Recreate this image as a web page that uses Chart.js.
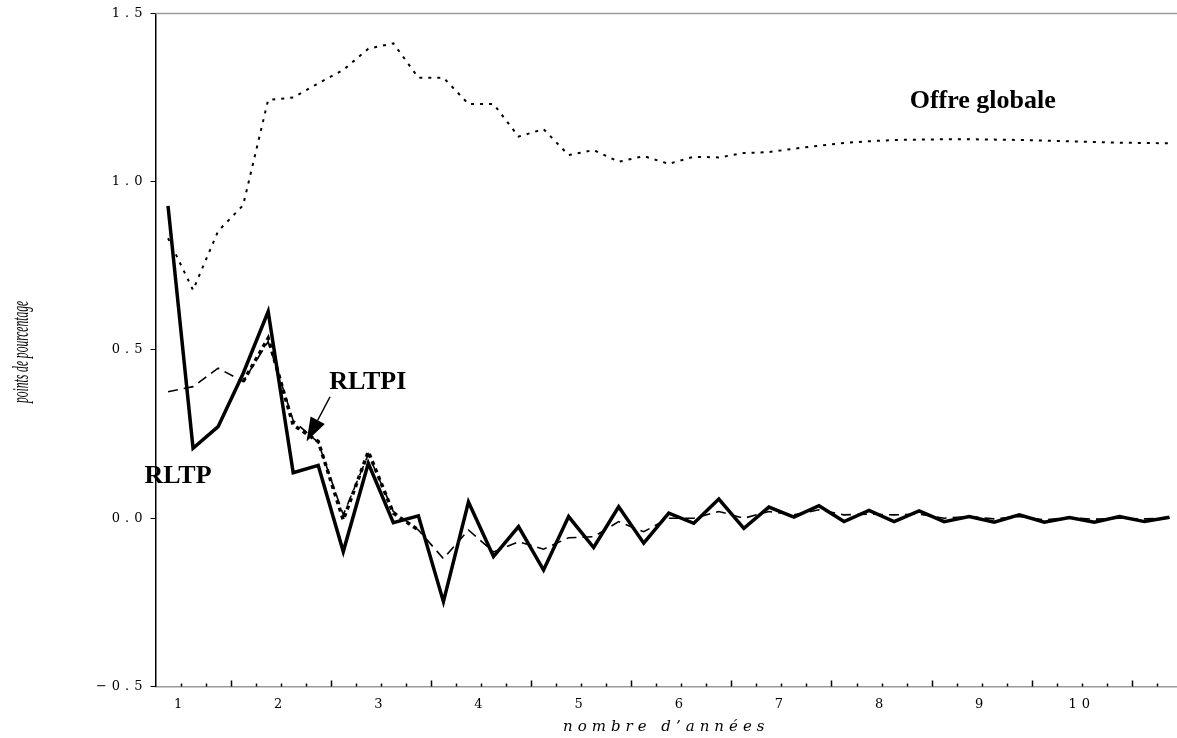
<!DOCTYPE html>
<html>
<head>
<meta charset="utf-8">
<script src="https://cdn.jsdelivr.net/npm/chart.js@4.4.1/dist/chart.umd.min.js"></script>
<style>
  html, body { margin: 0; padding: 0; background: #fff; }
  #wrap { width: 1177px; height: 738px; }
</style>
</head>
<body>
<div id="wrap"><canvas id="myChart" width="1177" height="738"></canvas></div>
<script>
// quarters, in years
var years = [0.875, 1.125, 1.375, 1.625, 1.875, 2.125, 2.375, 2.625, 2.875, 3.125, 3.375, 3.625, 3.875, 4.125,
  4.375, 4.625, 4.875, 5.125, 5.375, 5.625, 5.875, 6.125, 6.375, 6.625, 6.875, 7.125, 7.375, 7.625, 7.875,
  8.125, 8.375, 8.625, 8.875, 9.125, 9.375, 9.625, 9.875, 10.125, 10.375, 10.625, 10.875];

var rltp = [0.928, 0.208, 0.272, 0.43, 0.614, 0.135, 0.157, -0.099, 0.163, -0.013, 0.007, -0.248, 0.048, -0.114,
  -0.025, -0.154, 0.005, -0.087, 0.034, -0.074, 0.015, -0.015, 0.057, -0.03, 0.033, 0.003, 0.037, -0.01, 0.023,
  -0.01, 0.022, -0.01, 0.005, -0.012, 0.01, -0.012, 0.002, -0.012, 0.005, -0.01, 0.003];

var rltpi = [null, null, null, 0.406, 0.535, 0.277, 0.228, -0.005, 0.198, 0.015, -0.035, null, null, null,
  null, null, null, null, null, null, null, null, null, null, null, null, null, null, null,
  null, null, null, null, null, null, null, null, null, null, null, null];

var rltpiAlt = [0.376, 0.391, 0.446, 0.406, 0.525, 0.29, 0.225, 0.01, 0.19, 0.02, -0.035, -0.12, -0.035, -0.1,
  -0.07, -0.092, -0.058, -0.055, -0.01, -0.04, 0.0, 0.0, 0.02, 0.0, 0.02, 0.01, 0.025, 0.01, 0.012,
  0.01, 0.012, 0.0, 0.005, -0.002, 0.005, -0.005, 0.002, -0.003, 0.0, -0.002, 0.0];

var offreGlobale = [0.832, 0.678, 0.853, 0.93, 1.243, 1.25, 1.292, 1.332, 1.395, 1.411, 1.309, 1.309, 1.231, 1.231,
  1.134, 1.156, 1.079, 1.094, 1.059, 1.076, 1.053, 1.074, 1.072, 1.085, 1.088, 1.098, 1.107, 1.115, 1.12,
  1.124, 1.125, 1.126, 1.126, 1.125, 1.124, 1.122, 1.12, 1.118, 1.116, 1.115, 1.114];

var yearLabels = [1, 2, 3, 4, 5, 6, 7, 8, 9, 10];
var yTicks = [-0.5, 0.0, 0.5, 1.0, 1.5];

function points(values) {
  return years.map(function(x, i) { return { x: x, y: values[i] }; });
}

var decor = {
  id: 'decor',
  beforeDraw: function(chart) {
    chart.ctx.letterSpacing = '5px';
  },
  afterDraw: function(chart) {
    var ctx = chart.ctx, a = chart.chartArea, xs = chart.scales.x, ys = chart.scales.y;
    ctx.save();
    ctx.letterSpacing = '0px';

    // grey frame line on top
    ctx.strokeStyle = '#9a9a9a';
    ctx.lineWidth = 1.5;
    ctx.beginPath();
    ctx.moveTo(a.left, a.top);
    ctx.lineTo(a.right, a.top);
    ctx.stroke();

    // quarter ticks, pointing up
    ctx.strokeStyle = '#000';
    ctx.lineWidth = 1.5;
    for (var q = 4; q <= 43; q++) {
      var t = q / 4;
      var px = Math.round(xs.getPixelForValue(t)) + 0.5;
      var len = (q % 4 === 2) ? 6 : 3;
      ctx.beginPath();
      ctx.moveTo(px, a.bottom);
      ctx.lineTo(px, a.bottom - len);
      ctx.stroke();
    }

    // labels
    ctx.fillStyle = '#000';
    ctx.font = 'bold 26px "Liberation Serif"';
    ctx.textAlign = 'center';
    ctx.textBaseline = 'middle';
    ctx.fillText('Offre globale', xs.getPixelForValue(9.01), ys.getPixelForValue(1.24));
    ctx.fillText('RLTPI', xs.getPixelForValue(2.87), ys.getPixelForValue(0.405));
    ctx.fillText('RLTP', xs.getPixelForValue(0.975), ys.getPixelForValue(0.126));

    // arrow to RLTPI
    var x0 = xs.getPixelForValue(2.493), y0 = ys.getPixelForValue(0.361);
    var x1 = xs.getPixelForValue(2.258), y1 = ys.getPixelForValue(0.228);
    var ang = Math.atan2(y1 - y0, x1 - x0);
    var hl = 24, hw = 8;
    var bx = x1 - hl * Math.cos(ang), by = y1 - hl * Math.sin(ang);
    ctx.lineWidth = 1.5;
    ctx.beginPath();
    ctx.moveTo(x0, y0);
    ctx.lineTo(bx, by);
    ctx.stroke();
    ctx.beginPath();
    ctx.moveTo(x1, y1);
    ctx.lineTo(bx + hw * Math.sin(ang), by - hw * Math.cos(ang));
    ctx.lineTo(bx - hw * Math.sin(ang), by + hw * Math.cos(ang));
    ctx.closePath();
    ctx.fill();

    // condensed y title
    ctx.translate(22, (a.top + a.bottom) / 2 + 2);
    ctx.rotate(-Math.PI / 2);
    ctx.scale(0.48, 1);
    ctx.font = 'italic 24px "Liberation Serif"';
    ctx.fillText('points de pourcentage', 0, 0);
    ctx.restore();
  }
};

var ctx = document.getElementById('myChart').getContext('2d');
var myChart = new Chart(ctx, {
  type: 'line',
  data: {
    datasets: [
      { label: 'RLTPI (variante)', data: points(rltpiAlt), borderColor: '#000', borderWidth: 1.6,
        borderDash: [10, 6], pointRadius: 0, tension: 0 },
      { label: 'RLTPI', data: points(rltpi), borderColor: '#000', borderWidth: 3.5,
        borderDash: [4, 4], pointRadius: 0, tension: 0 },
      { label: 'RLTP', data: points(rltp), borderColor: '#000', borderWidth: 3.5,
        pointRadius: 0, tension: 0 },
      { label: 'Offre globale', data: points(offreGlobale), borderColor: '#000', borderWidth: 2,
        borderDash: [3, 6], pointRadius: 0, tension: 0 }
    ]
  },
  options: {
    responsive: false,
    animation: false,
    devicePixelRatio: 1,
    layout: { padding: { top: 13.4, right: 0, left: 0, bottom: 0 } },
    plugins: {
      legend: { display: false },
      tooltip: { enabled: false }
    },
    scales: {
      x: {
        type: 'linear',
        min: 0.75,
        max: 10.95,
        afterBuildTicks: function(s) { s.ticks = yearLabels.map(function(v) { return { value: v }; }); },
        afterFit: function(s) { s.height = 51.5; },
        grid: { display: true, drawOnChartArea: false, drawTicks: false, color: 'rgba(0,0,0,0)' },
        border: { color: '#9a9a9a', width: 1.5 },
        ticks: { color: '#000', padding: 10, maxRotation: 0, autoSkip: false,
          font: { family: 'DejaVu Serif', size: 13 } },
        title: { display: true, text: 'nombre d\u2019ann\u00e9es', color: '#000',
          padding: { top: 0, bottom: 2 },
          font: { family: 'DejaVu Serif', size: 15, style: 'italic' } }
      },
      y: {
        min: -0.5,
        max: 1.5,
        afterBuildTicks: function(s) { s.ticks = yTicks.map(function(v) { return { value: v }; }); },
        afterFit: function(s) { s.width = 155.5; },
        grid: { drawOnChartArea: false, drawTicks: true, tickLength: 5, color: '#000', lineWidth: 1 },
        border: { color: '#000', width: 1.5 },
        ticks: { color: '#000', padding: 3,
          font: { family: 'DejaVu Serif', size: 13 },
          callback: function(v) { return (v < 0 ? '\u2212' : '') + Math.abs(v).toFixed(1); } }
      }
    }
  },
  plugins: [decor]
});
</script>
</body>
</html>
